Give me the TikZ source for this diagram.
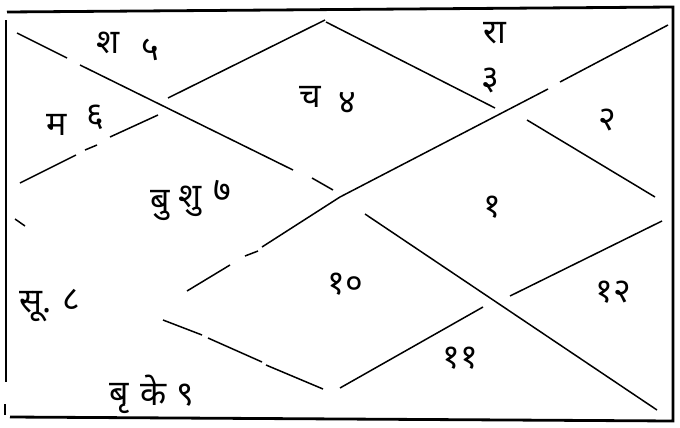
\documentclass[tikz,border=0pt]{standalone}
\usepackage{fontspec}
\newfontfamily\deva[Script=Devanagari]{Noto Sans}

\begin{document}
\begin{tikzpicture}[x=0.5pt,y=-0.5pt,
  frame/.style={line width=1.4pt},
  rule/.style={line width=0.75pt},
  lbl/.style={font=\deva\fontsize{17}{19}\selectfont,inner sep=0pt}]
  \useasboundingbox (0,0) rectangle (680,428);
  % outer box
  \draw[frame] (7,12) -- (673,7) -- (673,421) -- (10,417);
  \draw[frame] (6,20) -- (6,382) (5,404) -- (5,415);
  % corner to corner
  \draw[rule] (17,33) -- (67,58) (80,65) -- (293,170) (312,178) -- (333,190)
    (365,214) -- (657,410);
  \draw[rule] (668,25) -- (560,82) (548,89) -- (340,197) -- (262,247)
    (258,251) -- (245,256) (230,265) -- (187,291);
  % middle diamond
  \draw[rule] (325,20) -- (168,98) (158,115) -- (110,137) (97,145) -- (85,150)
    (76,155) -- (20,183);
  \draw[rule] (326,22) -- (495,108) (527,120) -- (655,197);
  \draw[rule] (15,219) -- (25,226) (163,320) -- (202,335) (208,338) -- (262,362)
    (266,365) -- (323,389);
  \draw[rule] (340,388) -- (483,307) (510,296) -- (662,221);
  % houses
  \node[lbl] (sha) at (108,43) {श};
  \node[lbl] (h5) at (150,50) {५};
  \node[lbl] (ma) at (57,125) {म};
  \node[lbl] (h6) at (95,117) {६};
  \node[lbl] (cha) at (310,97) {च};
  \node[lbl] (h4) at (347,103) {४};
  \node[lbl] (ra) at (495,33) {रा};
  \node[lbl] (h3) at (490,80) {३};
  \node[lbl] (h2) at (607,120) {२};
  \node[lbl] (bu) at (160,205) {बु};
  \node[lbl] (shu) at (190,201) {शु};
  \node[lbl] (h7) at (222,191) {७};
  \node[lbl] (h1) at (492,207) {१};
  \node[lbl] (su) at (36,307) {सू.};
  \node[lbl] (h8) at (71,300) {८};
  \node[lbl] (h10) at (345,284) {१०};
  \node[lbl] (h12) at (613,292) {१२};
  \node[lbl] (h11) at (460,358) {११};
  \node[lbl] (bri) at (119,398) {बृ};
  \node[lbl] (ke) at (154,390) {के};
  \node[lbl] (h9) at (185,395) {९};
\end{tikzpicture}
\end{document}
